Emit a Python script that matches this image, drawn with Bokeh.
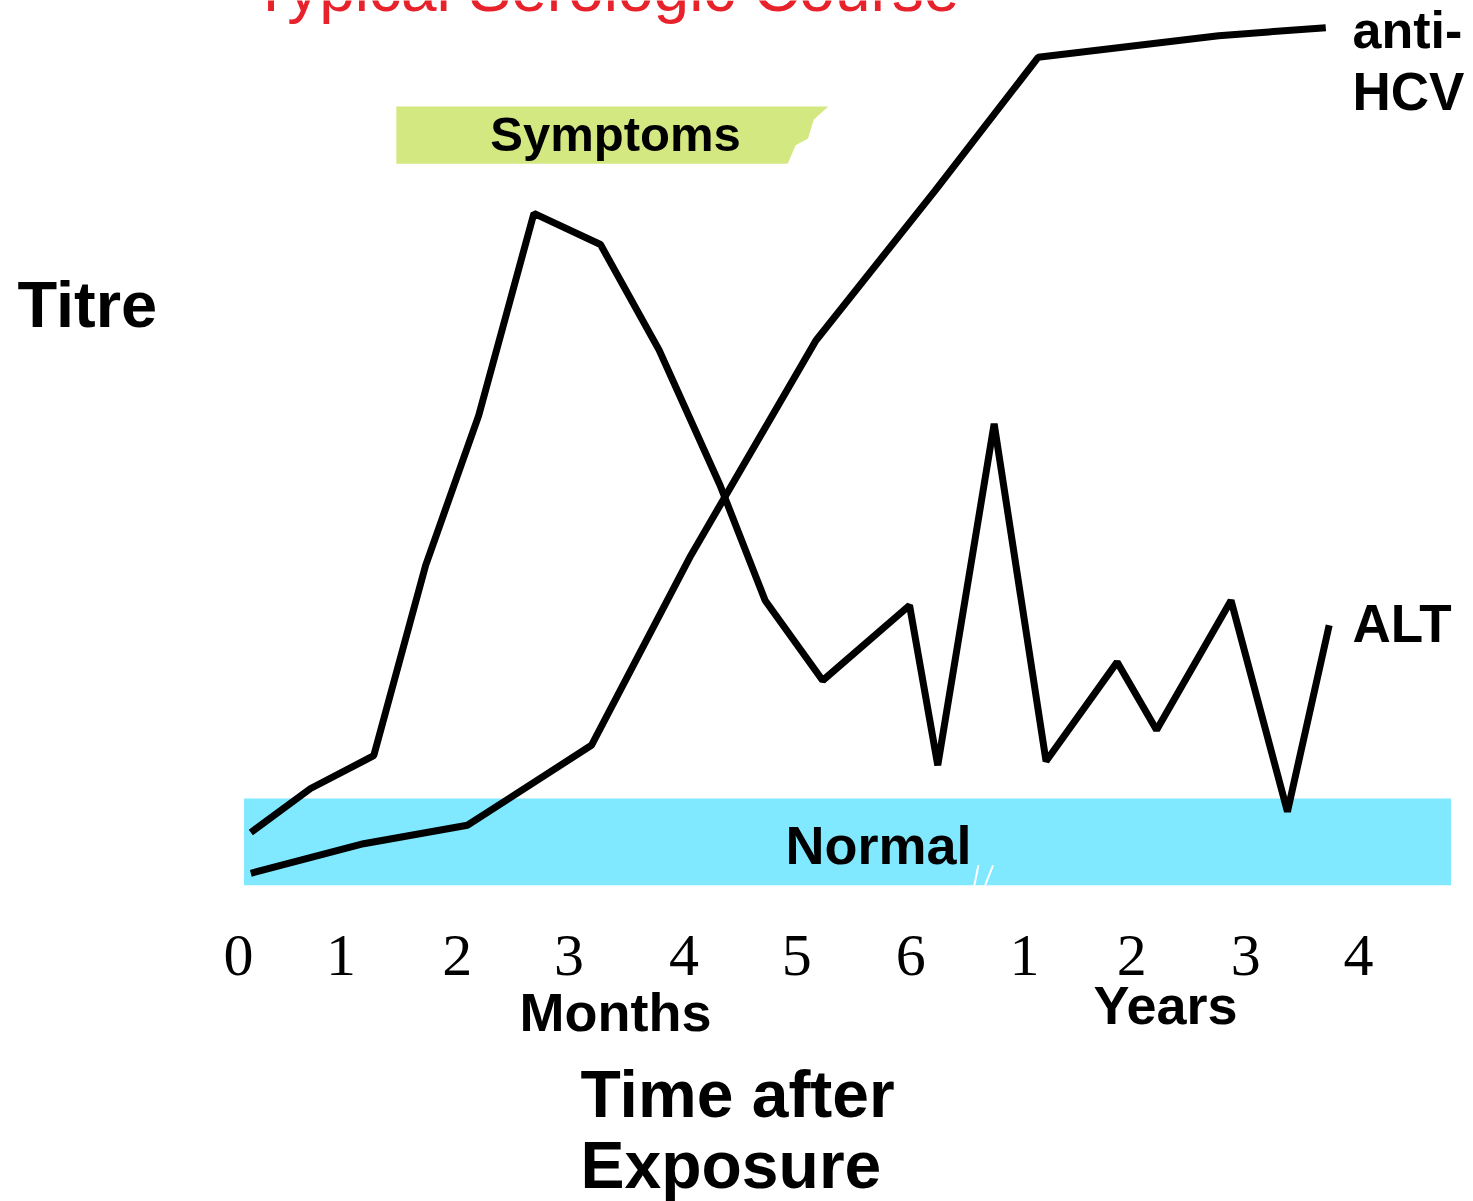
from bokeh.plotting import figure
from bokeh.models import Range1d
from bokeh.core.properties import value
from bokeh.embed import file_html
from bokeh.resources import INLINE

# ---- data (x = time slot: 0..6 months, then 1..4 years; y = titre, arbitrary units) ----
tick_pos = [0.07, 0.98, 2.01, 3.00, 4.02, 5.02, 6.03, 7.04, 7.99, 9.00, 10.00]
tick_labels = ["0", "1", "2", "3", "4", "5", "6", "1", "2", "3", "4"]

hcv_x = [0.18, 1.18, 2.10, 3.20, 4.08, 5.19, 6.25, 7.16, 8.76, 9.71]
hcv_y = [1.4, 5.1, 7.4, 17.4, 41.1, 68.0, 86.8, 103.4, 106.1, 107.1]

alt_x = [0.18, 0.71, 1.27, 1.73, 2.20, 2.69, 3.28, 3.80, 4.34, 4.74,
         5.25, 6.02, 6.27, 6.77, 7.23, 7.86, 8.21, 8.87, 9.37, 9.74]
alt_y = [6.5, 12.0, 16.1, 39.9, 58.6, 83.9, 80.0, 66.8, 49.9, 35.5,
         25.5, 34.9, 14.9, 57.6, 15.4, 27.8, 19.3, 35.5, 9.1, 32.4]

normal_left, normal_right = [0.12], [10.82]
normal_bottom, normal_top = [-0.1], [10.75]

symptoms_x = [1.47, 5.30, 5.17, 5.12, 5.01, 4.94, 1.47]
symptoms_y = [97.25, 97.25, 95.6, 93.25, 92.4, 90.1, 90.1]

break_xs = [[6.59, 6.63], [6.69, 6.76]]
break_ys = [[-0.4, 2.4], [-0.1, 2.4]]

# ---- layout helpers (page pixel -> data) for annotation placement ----
W, H = 1473, 1201
OFF = 0
X0PX, XSTEP = 230.0, 112.8
Y0PX, YSTEP = 884.0, 8.0


def px2x(px):
    return (px - X0PX) / XSTEP


def px2y(py):
    return (Y0PX - py) / YSTEP


p = figure(width=W, height=H, output_backend="svg", toolbar_location=None,
           x_range=Range1d(px2x(OFF), px2x(OFF + W)),
           y_range=Range1d(px2y(OFF + H), px2y(OFF)),
           min_border=0, border_fill_color="white", background_fill_color="white")
p.axis.visible = False
p.xgrid.visible = False
p.ygrid.visible = False
p.outline_line_color = None

BOLD = value("Liberation Sans")
BASE_FIX = 0.36  # svg baseline correction, fraction of font size

# Normal band
p.quad(left=normal_left, right=normal_right, bottom=normal_bottom, top=normal_top,
       fill_color="#80E8FF", line_color=None)
p.multi_line(xs=break_xs, ys=break_ys, line_color="white", line_width=2)

# Symptoms banner
p.patch(symptoms_x, symptoms_y, fill_color="#D4E882", line_color=None)

# curves
p.line(alt_x, alt_y, line_color="black", line_width=7)
p.line(hcv_x, hcv_y, line_color="black", line_width=7)

# tick labels
p.text(x=tick_pos, y=[px2y(977 - BASE_FIX * 60)] * len(tick_pos), text=tick_labels,
       text_font=value("Liberation Serif"), text_font_size="60px",
       text_align="center", text_baseline="alphabetic", text_color="black")


def label(txt, px, py, size, align="left", color="black", style="bold"):
    p.text(x=[px2x(px)], y=[px2y(py - BASE_FIX * size)], text=[txt], text_font=BOLD,
           text_font_size=f"{size}px", text_font_style=style,
           text_align=align, text_baseline="alphabetic", text_color=color)


label("Typical Serologic Course", 605, 12, 64, align="center", color="#E8222A", style="normal")
label("Symptoms", 615, 151, 49, align="center")
label("Titre", 17, 327, 65)
label("Normal", 785, 864, 54)
label("Months", 519, 1031, 54)
label("Years", 1093, 1024, 54)
label("anti-", 1352, 48, 52)
label("HCV", 1352, 110, 53)
label("ALT", 1352, 642, 53)
label("Time after", 580, 1117, 66)
label("Exposure", 580, 1188, 66)

open("out.html", "w").write(file_html(p, INLINE))
